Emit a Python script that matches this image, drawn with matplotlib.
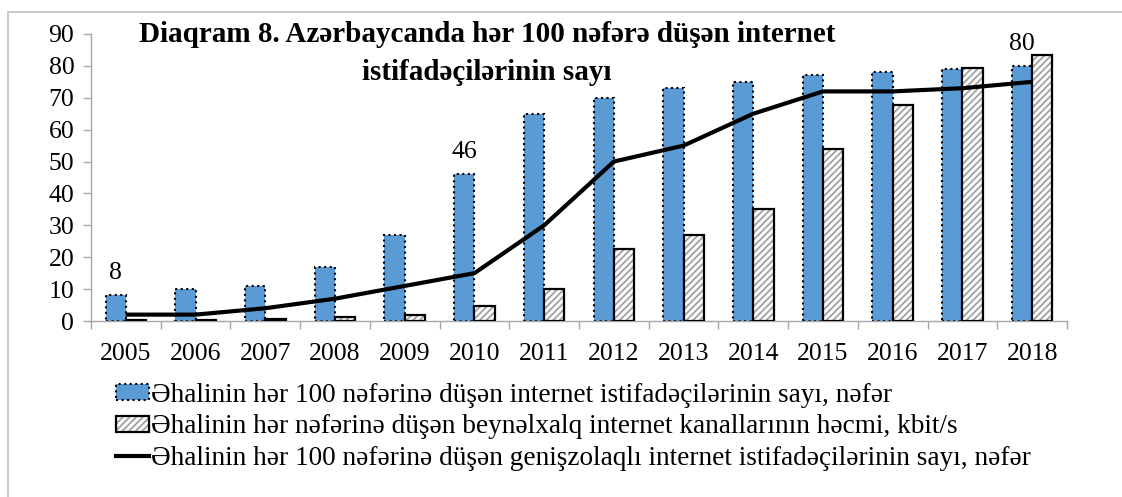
import numpy as np
import matplotlib
matplotlib.use("Agg")
import matplotlib.pyplot as plt
from matplotlib.patches import Patch, Rectangle
from matplotlib.lines import Line2D

plt.rcParams['font.family'] = ['Liberation Serif', 'DejaVu Serif']

years = ['2005', '2006', '2007', '2008', '2009', '2010', '2011',
         '2012', '2013', '2014', '2015', '2016', '2017', '2018']
users = [8, 10, 11, 17, 27, 46, 65, 70, 73, 75, 77, 78, 79, 80]
channels = [0.3, 0.3, 0.6, 1.2, 1.9, 4.7, 10.1, 22.5, 26.9, 35, 54, 67.6, 79.4, 83.4]
broadband = [2, 2, 4, 7, 11, 15, 30, 50, 55, 65, 72, 72, 73, 75]
labelled = {0: '8', 5: '46', 13: '80'}

legend_labels = [
    'Əhalinin hər 100 nəfərinə düşən internet istifadəçilərinin sayı, nəfər',
    'Əhalinin hər nəfərinə düşən beynəlxalq internet kanallarının həcmi, kbit/s',
    'Əhalinin hər 100 nəfərinə düşən genişzolaqlı internet istifadəçilərinin sayı, nəfər',
]
title1 = 'Diaqram 8. Azərbaycanda hər 100 nəfərə düşən internet'
title2 = 'istifadəçilərinin sayı'

blue = '#5B9BD5'
gray_axis = '#A6A6A6'
hatch_gray = '#A0A0A0'

fig = plt.figure(figsize=(11.22, 4.97), dpi=100)
ax = fig.add_axes([91 / 1122, 1 - 321 / 497, (1067 - 91) / 1122, (321 - 34) / 497])

# outer frame
fig.patches.append(Rectangle((8 / 1122, -0.1), 1.2, 0.1 + (497 - 12) / 497,
                             transform=fig.transFigure, fill=False,
                             edgecolor='#BFBFBF', linewidth=1.2))

x = np.arange(len(years))
w = 0.29

plt.rcParams['hatch.linewidth'] = 1.3
ax.bar(x - w / 2, users, w, color=blue, edgecolor='black',
       linestyle=':', linewidth=1.5, zorder=2)
ax.bar(x + w / 2, channels, w, color='white', edgecolor=hatch_gray,
       hatch='/////', linewidth=0, zorder=2)
ax.bar(x + w / 2, channels, w, fill=False, edgecolor='black',
       linewidth=1.6, zorder=3)
ax.plot(x, broadband, color='black', linewidth=3, zorder=4,
        solid_capstyle='butt')

for i, txt in labelled.items():
    ax.annotate(txt, (x[i] - w / 2, users[i]), xytext=(0, 8),
                textcoords='offset points', ha='center', va='bottom',
                fontsize=18.5)

ax.set_xlim(-0.5, len(years) - 0.5)
ax.set_ylim(0, 90)
ax.set_yticks(range(0, 91, 10))
ax.set_xticks(x)
ax.set_xticklabels(years)
ax.set_xticks(np.arange(-0.5, len(years)), minor=True)
ax.tick_params(axis='x', which='major', length=0, pad=16, labelsize=18.5)
ax.tick_params(axis='x', which='minor', length=6, color=gray_axis, width=1)
ax.tick_params(axis='y', length=6, color=gray_axis, width=1, pad=6, labelsize=18.5)

for s in ['top', 'right']:
    ax.spines[s].set_visible(False)
for s in ['left', 'bottom']:
    ax.spines[s].set_color(gray_axis)
    ax.spines[s].set_linewidth(1)

fig.text(487 / 1122, 1 - 35 / 497, title1, ha='center', va='center',
         fontsize=21, fontweight='bold')
fig.text(487 / 1122, 1 - 73 / 497, title2, ha='center', va='center',
         fontsize=21, fontweight='bold')

h1 = Patch(facecolor=blue, edgecolor='black', linestyle=':', linewidth=1.5)
h2 = (Patch(facecolor='white', edgecolor=hatch_gray, hatch='/////', linewidth=0),
      Patch(fill=False, edgecolor='black', linewidth=1.6))
h3 = Line2D([], [], color='black', linewidth=3)
fig.legend([h1, h2, h3], legend_labels, loc='upper left',
           bbox_to_anchor=(105 / 1122, 1 - 372 / 497), frameon=False,
           fontsize=19.6, handlelength=1.2, handleheight=0.5,
           handletextpad=0.1, labelspacing=0.24, borderaxespad=0)

fig.savefig('out.png', dpi=100)
